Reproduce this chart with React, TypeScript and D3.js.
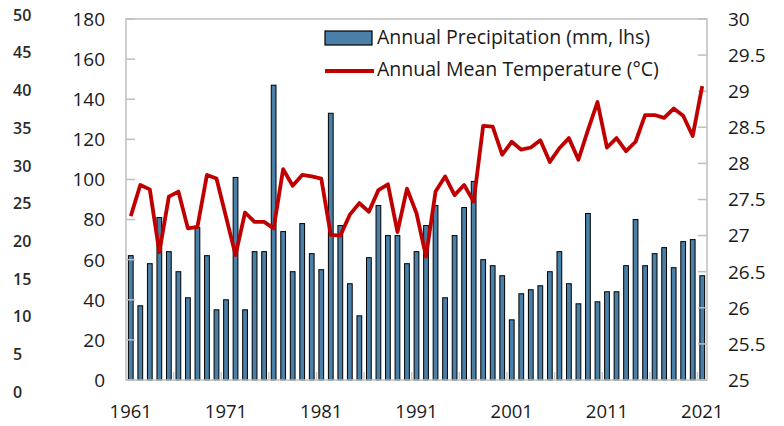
import React, { useEffect, useRef } from "react";
import * as d3 from "d3";

const years: number[] = [
  1961, 1962, 1963, 1964, 1965, 1966, 1967, 1968, 1969, 1970,
  1971, 1972, 1973, 1974, 1975, 1976, 1977, 1978, 1979, 1980,
  1981, 1982, 1983, 1984, 1985, 1986, 1987, 1988, 1989, 1990,
  1991, 1992, 1993, 1994, 1995, 1996, 1997, 1998, 1999, 2000,
  2001, 2002, 2003, 2004, 2005, 2006, 2007, 2008, 2009, 2010,
  2011, 2012, 2013, 2014, 2015, 2016, 2017, 2018, 2019, 2020, 2021,
];

const precipitation: number[] = [
  62, 37, 58, 81, 64, 54, 41, 76, 62, 35,
  40, 101, 35, 64, 64, 147, 74, 54, 78, 63,
  55, 133, 77, 48, 32, 61, 87, 72, 72, 58,
  64, 77, 87, 41, 72, 86, 99, 60, 57, 52,
  30, 43, 45, 47, 54, 64, 48, 38, 83, 39,
  44, 44, 57, 80, 57, 63, 66, 56, 69, 70, 52,
];

const temperature: number[] = [
  27.27, 27.7, 27.64, 26.77, 27.54, 27.61, 27.1, 27.12, 27.84, 27.79,
  27.26, 26.73, 27.32, 27.19, 27.19, 27.1, 27.92, 27.69, 27.84, 27.82,
  27.79, 27.01, 27.0, 27.29, 27.45, 27.33, 27.63, 27.71, 27.05, 27.65,
  27.31, 26.71, 27.61, 27.82, 27.56, 27.7, 27.47, 28.52, 28.51, 28.12,
  28.3, 28.19, 28.22, 28.32, 28.02, 28.21, 28.35, 28.05, 28.46, 28.85,
  28.22, 28.35, 28.17, 28.3, 28.67, 28.67, 28.63, 28.76, 28.66, 28.38, 29.07,
];

const xTickLabels: number[] = [1961, 1971, 1981, 1991, 2001, 2011, 2021];
const leftTicks: number[] = [0, 20, 40, 60, 80, 100, 120, 140, 160, 180];
const rightTicks: number[] = [25, 25.5, 26, 26.5, 27, 27.5, 28, 28.5, 29, 29.5, 30];
const farLeftTicks: number[] = [0, 5, 10, 15, 20, 25, 30, 35, 40, 45, 50];
const legendLabels: string[] = [
  "Annual Precipitation (mm, lhs)",
  "Annual Mean Temperature (°C)",
];

const W = 784;
const H = 426;
const FONT = "'Open Sans', 'Noto Sans', sans-serif";

export default function App() {
  const ref = useRef<SVGSVGElement | null>(null);

  useEffect(() => {
    const svg = d3.select(ref.current);
    svg.selectAll("*").remove();

    const left = 126, right = 707, top = 19, bottom = 380;
    const x = d3.scaleBand<number>().domain(years).range([left, right]).padding(0);
    const yL = d3.scaleLinear().domain([0, 180]).range([bottom, top]);
    const yR = d3.scaleLinear().domain([25, 30]).range([bottom, top]);
    const yFar = d3.scaleLinear().domain([0, 50]).range([392, 15]);
    const bw = x.bandwidth();
    const barW = bw * 0.5;

    // bars
    svg.append("g")
      .selectAll("rect")
      .data(years)
      .join("rect")
      .attr("x", (d) => (x(d) as number) + bw / 2 - barW / 2)
      .attr("y", (_, i) => yL(precipitation[i]))
      .attr("width", barW)
      .attr("height", (_, i) => bottom - yL(precipitation[i]))
      .attr("fill", "#4a7fa7")
      .attr("stroke", "#000")
      .attr("stroke-width", 1);

    // frame
    svg.append("rect")
      .attr("x", left).attr("y", top)
      .attr("width", right - left).attr("height", bottom - top)
      .attr("fill", "none").attr("stroke", "#bfbfbf").attr("stroke-width", 1.5);

    // left ticks (inside)
    svg.append("g").selectAll("line").data(leftTicks).join("line")
      .attr("x1", left).attr("x2", left + 9)
      .attr("y1", (d) => yL(d)).attr("y2", (d) => yL(d))
      .attr("stroke", "#bfbfbf").attr("stroke-width", 1.5);
    // right ticks (inside)
    svg.append("g").selectAll("line").data(rightTicks).join("line")
      .attr("x1", right - 9).attr("x2", right)
      .attr("y1", (d) => yR(d)).attr("y2", (d) => yR(d))
      .attr("stroke", "#bfbfbf").attr("stroke-width", 1.5);
    // bottom ticks every 5 categories
    const bTicks = years.filter((_, i) => i > 0 && i % 5 === 0);
    svg.append("g").selectAll("line").data(bTicks).join("line")
      .attr("x1", (d) => x(d) as number).attr("x2", (d) => x(d) as number)
      .attr("y1", bottom - 8).attr("y2", bottom)
      .attr("stroke", "#c8c8c8").attr("stroke-width", 1.5);

    // temperature line
    const line = d3.line<number>()
      .x((_, i) => (x(years[i]) as number) + bw / 2)
      .y((d) => yR(d));
    svg.append("path")
      .datum(temperature)
      .attr("d", line)
      .attr("fill", "none")
      .attr("stroke", "#c00000")
      .attr("stroke-width", 3.8)
      .attr("stroke-linejoin", "round");

    // left labels
    svg.append("g").selectAll("text").data(leftTicks).join("text")
      .attr("x", 105).attr("y", (d) => yL(d))
      .attr("dy", "0.36em").attr("text-anchor", "end")
      .attr("font-family", FONT).attr("font-size", 19).attr("fill", "#1a1a1a")
      .text((d) => String(d));
    // right labels
    svg.append("g").selectAll("text").data(rightTicks).join("text")
      .attr("x", 728).attr("y", (d) => yR(d))
      .attr("dy", "0.36em").attr("text-anchor", "start")
      .attr("font-family", FONT).attr("font-size", 19).attr("fill", "#1a1a1a")
      .text((d) => String(d));
    // far-left labels
    svg.append("g").selectAll("text").data(farLeftTicks).join("text")
      .attr("x", 13).attr("y", (d) => yFar(d))
      .attr("dy", "0.36em").attr("text-anchor", "start")
      .attr("font-family", FONT).attr("font-size", 16).attr("font-weight", 600)
      .attr("fill", "#2a2a2a")
      .text((d) => String(d));
    // x labels
    svg.append("g").selectAll("text").data(xTickLabels).join("text")
      .attr("x", (d) => (x(d) as number) + bw / 2).attr("y", 418)
      .attr("text-anchor", "middle")
      .attr("font-family", FONT).attr("font-size", 18.5).attr("fill", "#1a1a1a")
      .text((d) => String(d));

    // legend
    const lg = svg.append("g");
    lg.append("rect").attr("x", 325).attr("y", 31).attr("width", 47).attr("height", 14)
      .attr("fill", "#4a7fa7").attr("stroke", "#000").attr("stroke-width", 1.2);
    lg.append("line").attr("x1", 325).attr("x2", 374).attr("y1", 71).attr("y2", 71)
      .attr("stroke", "#c00000").attr("stroke-width", 3.8);
    lg.selectAll("text").data(legendLabels).join("text")
      .attr("x", 377).attr("y", (_, i) => (i === 0 ? 37 : 68.5))
      .attr("dy", "0.36em")
      .attr("font-family", FONT).attr("font-size", 19.5).attr("fill", "#1a1a1a")
      .text((d) => d);
  }, []);

  return (
    <svg
      ref={ref}
      width={W}
      height={H}
      style={{ position: "absolute", left: 0, top: 0, background: "#fff" }}
    />
  );
}
